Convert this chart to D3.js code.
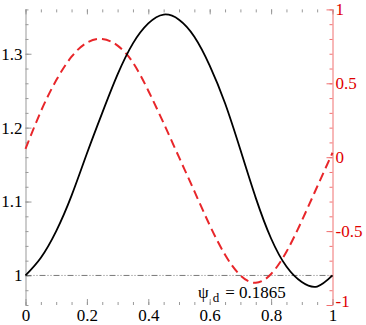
<!DOCTYPE html>
<html>
<head>
<meta charset="utf-8">
<script src="https://cdn.jsdelivr.net/npm/d3@7"></script>
<style>
  body { margin: 0; background: #fff; }
</style>
</head>
<body>
<svg id="chart" width="366" height="325"></svg>
<script>
// x positions (shared by both curves)
const xs = [0, 0.05, 0.1, 0.15, 0.2, 0.25, 0.3, 0.35, 0.4, 0.45, 0.5,
            0.55, 0.6, 0.65, 0.7, 0.75, 0.8, 0.85, 0.9, 0.95, 1];
// black solid curve, left axis
const leftVals = [1.000, 1.024, 1.060, 1.108, 1.165, 1.220, 1.272, 1.314, 1.341, 1.353, 1.346,
                  1.323, 1.284, 1.233, 1.170, 1.105, 1.050, 1.012, 0.991, 0.985, 1.000];
// red dashed curve, right axis
const rightVals = [0.056, 0.31, 0.52, 0.68, 0.775, 0.80, 0.755, 0.64, 0.45, 0.23, 0.0,
                   -0.23, -0.46, -0.66, -0.80, -0.85, -0.79, -0.64, -0.43, -0.20, 0.03];

const xTicks = [0, 0.2, 0.4, 0.6, 0.8, 1];
const leftTicks = [1, 1.1, 1.2, 1.3];
const rightTicks = [-1, -0.5, 0, 0.5, 1];
const label = "0.1865";

const mLeft = 25.5, mRight = 332.5, mTop = 9.4, mBottom = 305;
const red = "#e8262a";
const serif = '"Times New Roman"';

const svg = d3.select('#chart');

const x = d3.scaleLinear().domain([0, 1]).range([mLeft, mRight]);
const y = d3.scaleLinear().domain([0.96, 1.36]).range([mBottom, mTop]);
const y2 = d3.scaleLinear().domain([-1, 1]).range([mBottom, mTop]);

// minor ticks
const xMinor = d3.range(0, 1.0001, 0.05).map(d => +d.toFixed(2));
const yMinor = d3.range(0.96, 1.3601, 0.02).map(d => +d.toFixed(2));
const y2Minor = d3.range(-1, 1.0001, 0.1).map(d => +d.toFixed(1));

function styleAxis(g, col) {
  g.attr('font-family', null).attr('font-size', null);
  g.selectAll('.tick line').attr('stroke', col);
  g.selectAll('.domain').attr('stroke', col);
  g.selectAll('text').attr('font-size', 17).style('font-family', serif);
}

// bottom x ticks
svg.append('g').attr('transform', `translate(0,${mBottom})`)
  .call(d3.axisBottom(x).tickValues(xMinor).tickSizeInner(-3).tickSizeOuter(0).tickFormat(''))
  .call(g => g.select('.domain').remove())
  .call(g => styleAxis(g, '#999'));
svg.append('g').attr('transform', `translate(0,${mBottom})`)
  .call(d3.axisBottom(x).tickValues(xTicks).tickSizeInner(-6).tickSizeOuter(0).tickPadding(4)
    .tickFormat(d3.format('')))
  .call(g => g.select('.domain').remove())
  .call(g => styleAxis(g, '#999'))
  .call(g => g.selectAll('text').attr('fill', '#000').attr('dy', '0.71em'));

// top x ticks
svg.append('g').attr('transform', `translate(0,${mTop})`)
  .call(d3.axisTop(x).tickValues(xMinor).tickSizeInner(-3).tickSizeOuter(0).tickFormat(''))
  .call(g => g.select('.domain').remove())
  .call(g => styleAxis(g, '#999'));
svg.append('g').attr('transform', `translate(0,${mTop})`)
  .call(d3.axisTop(x).tickValues(xTicks).tickSizeInner(-5).tickSizeOuter(0).tickFormat(''))
  .call(g => g.select('.domain').remove())
  .call(g => styleAxis(g, '#999'));

// left axis
svg.append('g').attr('transform', `translate(${mLeft},0)`)
  .call(d3.axisLeft(y).tickValues(yMinor).tickSizeInner(-3).tickSizeOuter(0).tickFormat(''))
  .call(g => styleAxis(g, '#999'));
svg.append('g').attr('transform', `translate(${mLeft},0)`)
  .call(d3.axisLeft(y).tickValues(leftTicks).tickSizeInner(-6).tickSizeOuter(0).tickPadding(3)
    .tickFormat(d3.format('')))
  .call(g => g.select('.domain').remove())
  .call(g => styleAxis(g, '#999'))
  .call(g => g.selectAll('text').attr('fill', '#000'));

// right axis (red)
svg.append('g').attr('transform', `translate(${mRight},0)`)
  .call(d3.axisRight(y2).tickValues(y2Minor).tickSizeInner(-3).tickSizeOuter(0).tickFormat(''))
  .call(g => styleAxis(g, '#f07070'));
svg.append('g').attr('transform', `translate(${mRight},0)`)
  .call(d3.axisRight(y2).tickValues(rightTicks).tickSizeInner(-6).tickSizeOuter(0).tickPadding(3)
    .tickFormat(d3.format('')))
  .call(g => g.select('.domain').remove())
  .call(g => styleAxis(g, '#f07070'))
  .call(g => g.selectAll('text').attr('fill', '#e00000')
    .attr('dy', d => d === -1 ? '0.1em' : '0.32em')
    .text(d => d < 0 ? '-' + Math.abs(d) : d));

// reference line at 1
svg.append('line')
  .attr('x1', x(0)).attr('x2', x(1))
  .attr('y1', y(1)).attr('y2', y(1))
  .attr('stroke', '#555').attr('stroke-width', 0.8)
  .attr('stroke-dasharray', '6,2,1,2,1,2');

// curves
const lineL = d3.line().x((d, i) => x(xs[i])).y(d => y(d)).curve(d3.curveNatural);
const lineR = d3.line().x((d, i) => x(xs[i])).y(d => y2(d)).curve(d3.curveNatural);

svg.append('path').datum(rightVals)
  .attr('d', lineR).attr('fill', 'none')
  .attr('stroke', red).attr('stroke-width', 2)
  .attr('stroke-dasharray', '9,5');

svg.append('path').datum(leftVals)
  .attr('d', lineL).attr('fill', 'none')
  .attr('stroke', '#000').attr('stroke-width', 1.8);

// annotation
const t = svg.append('text').attr('x', 198).attr('y', 298)
  .attr('font-size', 17).style('font-family', serif).attr('fill', '#000');
t.append('tspan').text('ψ');
t.append('tspan').attr('font-size', 13).attr('dx', 4).attr('dy', 4).text('d');
t.append('tspan').attr('dy', -4).attr('dx', 6).text('= ' + label);
</script>
</body>
</html>
